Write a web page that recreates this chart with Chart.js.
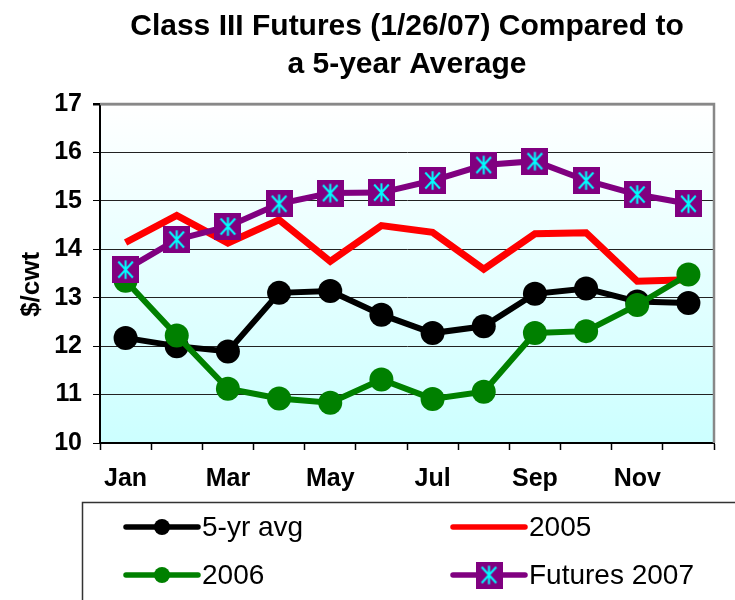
<!DOCTYPE html>
<html>
<head>
<meta charset="utf-8">
<script src="https://cdn.jsdelivr.net/npm/chart.js@4.4.1/dist/chart.umd.min.js"></script>
<style>
  html, body { margin: 0; padding: 0; background: #ffffff; }
  #wrap { width: 735px; height: 600px; }
</style>
</head>
<body>
<div id="wrap"><canvas id="c" width="735" height="600"></canvas></div>
<script>
// ---- data ----
const months = ['Jan','Feb','Mar','Apr','May','Jun','Jul','Aug','Sep','Oct','Nov','Dec'];
const xTickLabels = ['Jan','','Mar','','May','','Jul','','Sep','','Nov',''];
const avg5yr = [12.17, 12.00, 11.89, 13.10, 13.14, 12.65, 12.27, 12.41, 13.08, 13.19, 12.92, 12.89];
const y2005  = [14.14, 14.70, 14.13, 14.61, 13.75, 14.49, 14.35, 13.59, 14.32, 14.34, 13.34, 13.37];
const y2006  = [13.35, 12.22, 11.12, 10.92, 10.83, 11.31, 10.91, 11.06, 12.27, 12.31, 12.85, 13.48];
const fut2007 = [13.58, 14.20, 14.47, 14.94, 15.16, 15.17, 15.42, 15.74, 15.82, 15.42, 15.13, 14.94];
const seriesNames = ['5-yr avg', '2005', '2006', 'Futures 2007'];
const titleLines = ['Class III Futures (1/26/07) Compared to', 'a 5-year Average'];
const yTitle = '$/cwt';

const FONT = "'Liberation Sans', Arial, Helvetica, sans-serif";

function makeStarSquare(size) {
  const c = document.createElement('canvas');
  c.width = size; c.height = size;
  const g = c.getContext('2d');
  g.fillStyle = '#800080';
  g.fillRect(0, 0, size, size);
  g.strokeStyle = '#00FFFF';
  g.lineWidth = 2;
  const m = size / 2, a = size * 0.34, b = size * 0.27;
  g.beginPath();
  g.moveTo(m, m - a); g.lineTo(m, m + a);
  g.moveTo(m - b, m - b * 1.1); g.lineTo(m + b, m + b * 1.1);
  g.moveTo(m + b, m - b * 1.1); g.lineTo(m - b, m + b * 1.1);
  g.stroke();
  return c;
}
const starImg = makeStarSquare(27);

const bgPlugin = {
  id: 'bgPlugin',
  beforeDraw(chart) {
    const {ctx, chartArea: a} = chart;
    const grad = ctx.createLinearGradient(0, a.top, 0, a.bottom);
    grad.addColorStop(0, '#FFFFFF');
    grad.addColorStop(1, '#CCFFFF');
    ctx.save();
    ctx.fillStyle = grad;
    ctx.fillRect(a.left, a.top, a.right - a.left, a.bottom - a.top);
    ctx.restore();
  },
  beforeDatasetsDraw(chart) {
    const {ctx, chartArea: a} = chart;
    ctx.save();
    ctx.strokeStyle = '#888888';
    ctx.lineWidth = 2.5;
    ctx.beginPath();
    ctx.moveTo(a.left, a.top);
    ctx.lineTo(a.right, a.top);
    ctx.lineTo(a.right, a.bottom);
    ctx.stroke();
    ctx.restore();
  }
};

const legendPlugin = {
  id: 'boxLegend',
  afterDraw(chart) {
    const ctx = chart.ctx;
    ctx.save();
    ctx.strokeStyle = '#333333';
    ctx.lineWidth = 1.5;
    ctx.strokeRect(82.5, 502.5, 720, 150);
    const cols = [126, 453];
    const rows = [527, 575];
    const order = [0, 1, 2, 3];
    order.forEach((di, k) => {
      const ds = chart.data.datasets[di];
      const x0 = cols[k % 2], y = rows[Math.floor(k / 2)];
      const x1 = x0 + 72;
      ctx.strokeStyle = ds.borderColor;
      ctx.lineWidth = 5.5;
      ctx.lineCap = 'round';
      ctx.beginPath();
      ctx.moveTo(x0, y); ctx.lineTo(x1, y);
      ctx.stroke();
      const mx = (x0 + x1) / 2;
      if (ds.pointStyle === 'circle') {
        ctx.fillStyle = ds.pointBackgroundColor;
        ctx.beginPath();
        ctx.arc(mx, y, 8, 0, Math.PI * 2);
        ctx.fill();
      } else if (ds.pointStyle && ds.pointStyle !== false && typeof ds.pointStyle === 'object') {
        ctx.drawImage(ds.pointStyle, mx - ds.pointStyle.width / 2, y - ds.pointStyle.height / 2);
      }
      ctx.fillStyle = '#000000';
      ctx.font = '28px ' + FONT;
      ctx.textAlign = 'left';
      ctx.textBaseline = 'alphabetic';
      ctx.fillText(ds.label, x1 + 4, y + 9);
    });
    ctx.restore();
  }
};

new Chart(document.getElementById('c'), {
  type: 'line',
  data: {
    labels: months,
    datasets: [
      { label: seriesNames[0], data: avg5yr, borderColor: '#000000', backgroundColor: '#000000',
        pointBackgroundColor: '#000000', pointBorderColor: '#000000', pointStyle: 'circle',
        pointRadius: 12, pointBorderWidth: 0, borderWidth: 6, order: 4 },
      { label: seriesNames[1], data: y2005, borderColor: '#FF0000', backgroundColor: '#FF0000',
        pointRadius: 0, pointStyle: false, borderWidth: 7, order: 3 },
      { label: seriesNames[2], data: y2006, borderColor: '#008000', backgroundColor: '#008000',
        pointBackgroundColor: '#008000', pointBorderColor: '#008000', pointStyle: 'circle',
        pointRadius: 12, pointBorderWidth: 0, borderWidth: 6, order: 2 },
      { label: seriesNames[3], data: fut2007, borderColor: '#800080', backgroundColor: '#800080',
        pointStyle: starImg, pointRadius: 13, borderWidth: 6, order: 1 }
    ]
  },
  options: {
    responsive: false,
    animation: false,
    events: [],
    layout: { padding: { left: 0, right: 21, top: 0, bottom: 107 } },
    plugins: {
      legend: { display: false },
      tooltip: { enabled: false },
      title: {
        display: true,
        text: titleLines,
        fullSize: false,
        color: '#000000',
        font: { family: FONT, size: 30, weight: 'bold', lineHeight: 1.25 },
        padding: { top: 8, bottom: 21 }
      }
    },
    elements: { line: { tension: 0, borderCapStyle: 'butt', borderJoinStyle: 'miter' } },
    scales: {
      x: {
        offset: true,
        grid: { offset: true, drawOnChartArea: false, drawTicks: true, tickLength: 7, tickColor: '#000000', tickWidth: 1.5 },
        border: { color: '#000000', width: 2 },
        ticks: {
          autoSkip: false, maxRotation: 0, padding: 14, color: '#000000',
          font: { family: FONT, size: 25, weight: 'bold' },
          callback: (v, i) => xTickLabels[i]
        },
        afterFit(scale) { scale.height = 50; }
      },
      y: {
        min: 10, max: 17,
        ticks: { stepSize: 1, padding: 11, color: '#000000', font: { family: FONT, size: 25, weight: 'bold' } },
        grid: {
          color: (c) => (c.tick && c.tick.value === 17) ? '#888888' : '#222222',
          lineWidth: (c) => (c.tick && c.tick.value === 17) ? 2.5 : 1,
          tickLength: 7, tickColor: '#000000', drawTicks: true
        },
        border: { color: '#000000', width: 2 },
        title: {
          display: true, text: yTitle + '   ', color: '#000000',
          font: { family: FONT, size: 26, weight: 'bold' },
          padding: { top: 16, bottom: 0 }
        },
        afterFit(scale) { scale.width = 100; }
      }
    }
  },
  plugins: [bgPlugin, legendPlugin]
});
</script>
</body>
</html>
